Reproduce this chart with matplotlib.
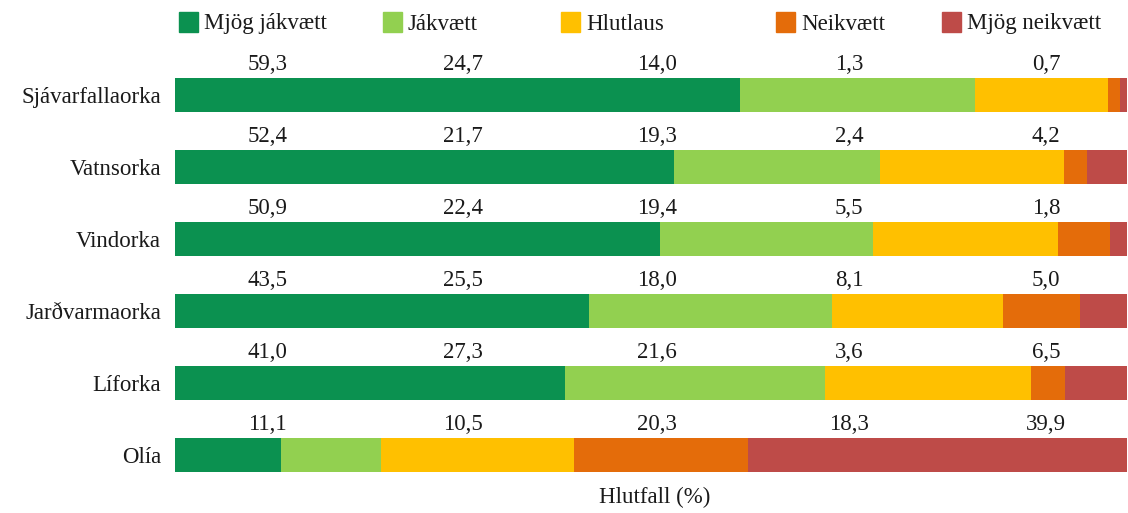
import matplotlib.pyplot as plt
from matplotlib.patches import Rectangle

plt.rcParams['font.family'] = ['Liberation Serif', 'DejaVu Serif']

categories = ['Sjávarfallaorka', 'Vatnsorka', 'Vindorka', 'Jarðvarmaorka', 'Líforka', 'Olía']
series_names = ['Mjög jákvætt', 'Jákvætt', 'Hlutlaus', 'Neikvætt', 'Mjög neikvætt']
colors = ['#0B9150', '#92D050', '#FFC000', '#E46C0A', '#BE4B48']

mjog_jakvaett = [59.3, 52.4, 50.9, 43.5, 41.0, 11.1]
jakvaett = [24.7, 21.7, 22.4, 25.5, 27.3, 10.5]
hlutlaus = [14.0, 19.3, 19.4, 18.0, 21.6, 20.3]
neikvaett = [1.3, 2.4, 5.5, 8.1, 3.6, 18.3]
mjog_neikvaett = [0.7, 4.2, 1.8, 5.0, 6.5, 39.9]

series = [mjog_jakvaett, jakvaett, hlutlaus, neikvaett, mjog_neikvaett]
label_x = [9.7, 30.2, 50.6, 70.8, 91.5]   # fixed columns for value labels

W, H = 1128, 513
FS = 16.5
fig = plt.figure(figsize=(W / 100, H / 100), dpi=100)
ax = fig.add_axes([175 / W, 1 - 476.6 / H, 952 / W, (476.6 - 33.8) / H])

ypos = list(range(len(categories)))
left = [0.0] * len(categories)
for vals, col in zip(series, colors):
    ax.barh(ypos, vals, left=left, color=col, height=0.47)
    left = [l + v for l, v in zip(left, vals)]

# value labels above each bar
for i in ypos:
    for j, vals in enumerate(series):
        ax.text(label_x[j], i - 0.43, f"{vals[i]:.1f}".replace('.', ','),
                ha='center', va='center', fontsize=FS, color='#1a1a1a')

ax.set_xlim(0, 100)
ax.set_ylim(5.3, -0.85)
ax.set_yticks(ypos)
ax.set_yticklabels(categories, fontsize=FS, color='#1a1a1a')
ax.tick_params(axis='y', length=0, pad=10)
ax.set_xticks([])
for s in ax.spines.values():
    s.set_visible(False)

fig.text(655 / W, 1 - 497 / H, 'Hlutfall (%)', ha='center', va='center',
         fontsize=FS, color='#1a1a1a')

# legend drawn by hand: squares and labels along the top
legend_x = [179, 383, 561, 776, 942]
for x, c, n in zip(legend_x, colors, series_names):
    fig.patches.append(Rectangle((x / W, 1 - 32 / H), 19 / W, 20 / H,
                                 color=c, transform=fig.transFigure))
    fig.text((x + 25) / W, 1 - 24 / H, n, ha='left', va='center',
             fontsize=FS, color='#1a1a1a')

fig.savefig('out.png', dpi=100)
